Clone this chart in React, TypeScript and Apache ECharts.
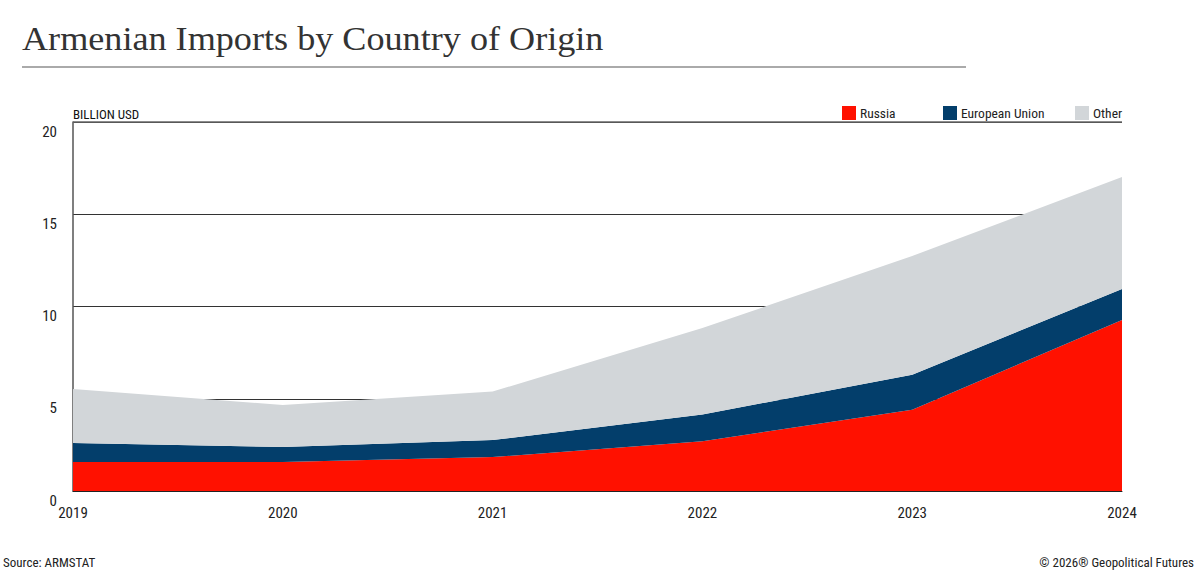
import React, { useEffect, useRef } from "react";
import * as echarts from "echarts";

const years = ["2019", "2020", "2021", "2022", "2023", "2024"];
const russia = [1.57, 1.57, 1.84, 2.7, 4.4, 9.27];
const europeanUnion = [1.03, 0.81, 0.92, 1.45, 1.9, 1.68];
const other = [2.93, 2.28, 2.63, 4.68, 6.44, 6.07];
const yTicks = { min: 0, max: 20, interval: 5 };

const COND = "'Roboto Condensed', 'Liberation Sans Narrow', 'DejaVu Sans Condensed', Roboto, sans-serif";

export default function App() {
  const ref = useRef<HTMLDivElement>(null);
  useEffect(() => {
    const chart = echarts.init(ref.current!, undefined, { renderer: "svg" });
    const mkSeries = (name: string, data: number[], color: string) => ({
      name,
      type: "line",
      stack: "total",
      data,
      showSymbol: false,
      symbol: "none",
      lineStyle: { width: 0, color },
      itemStyle: { color },
      areaStyle: { color, opacity: 1 },
    });
    const legendCommon = {
      top: 106,
      padding: 0,
      icon: "rect",
      itemWidth: 14,
      itemHeight: 14,
      itemGap: 6,
      textStyle: { fontFamily: COND, fontSize: 13.5, color: "#222", padding: [0, 0, 3, -1] },
    };
    chart.setOption({
      animation: false,
      backgroundColor: "#fff",
      grid: { left: 73, right: 78, top: 122, bottom: 85 },
      legend: [
        { ...legendCommon, left: 842, data: ["Russia"] },
        { ...legendCommon, left: 943, data: ["European Union"] },
        { ...legendCommon, left: 1075, data: ["Other"] },
      ],
      xAxis: {
        type: "category",
        data: years,
        boundaryGap: false,
        axisLine: { show: true, lineStyle: { color: "#222", width: 1 } },
        axisTick: { show: false },
        axisLabel: { fontFamily: COND, fontSize: 15, color: "#222", margin: 14 },
        splitLine: { show: false },
      },
      yAxis: {
        type: "value",
        min: yTicks.min,
        max: yTicks.max,
        interval: yTicks.interval,
        axisLine: { show: true, lineStyle: { color: "#555", width: 1.5 } },
        axisTick: { show: false },
        axisLabel: {
          fontFamily: COND,
          fontSize: 15,
          color: "#222",
          margin: 16,
          verticalAlign: "top",
          padding: [2, 0, 0, 0],
        },
        splitLine: { show: true, lineStyle: { color: "#333", width: 1 } },
      },
      series: [
        mkSeries("Russia", russia, "#ff1100"),
        mkSeries("European Union", europeanUnion, "#033e6b"),
        mkSeries("Other", other, "#d2d6d9"),
      ],
      graphic: [
        {
          type: "text",
          x: 22,
          y: 22,
          scaleX: 1.096,
          style: {
            text: "Armenian Imports by Country of Origin",
            fontFamily: "'Liberation Serif', 'DejaVu Serif', serif",
            fontSize: 33,
            fill: "#333",
          },
        },
        {
          type: "line",
          shape: { x1: 22, y1: 67, x2: 966, y2: 67 },
          style: { stroke: "#aaa", lineWidth: 2 },
        },
        {
          type: "line",
          shape: { x1: 73, y1: 122, x2: 1122, y2: 122 },
          style: { stroke: "#666", lineWidth: 1.5 },
          z: 10,
        },
        {
          type: "text",
          left: 73,
          top: 108,
          style: { text: "BILLION USD", fontFamily: COND, fontSize: 13, fill: "#111" },
        },
        {
          type: "text",
          left: 3,
          top: 556,
          style: { text: "Source: ARMSTAT", fontFamily: COND, fontSize: 13, fill: "#222" },
        },
        {
          type: "text",
          right: 6,
          top: 556,
          style: { text: "© 2026® Geopolitical Futures", fontFamily: COND, fontSize: 13, fill: "#222" },
        },
      ],
    });
    return () => chart.dispose();
  }, []);
  return (
    <div
      ref={ref}
      style={{ position: "fixed", left: 0, top: 0, width: 1200, height: 576, background: "#fff" }}
    />
  );
}
